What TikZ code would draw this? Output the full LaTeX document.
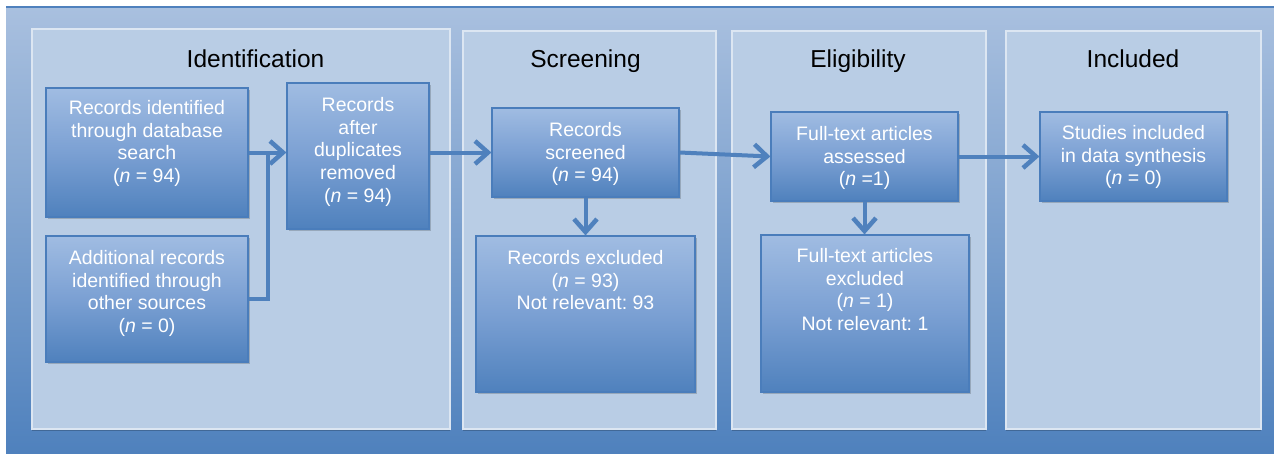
\documentclass[tikz,border=0pt]{standalone}
\usepackage{fontspec}
\setmainfont{Liberation Sans}
\usetikzlibrary{arrows.meta}
\frenchspacing

\definecolor{bgtop}{HTML}{A9C0DF}
\definecolor{bgbot}{HTML}{4F81BD}
\definecolor{panelfill}{HTML}{B9CDE5}
\definecolor{panelline}{HTML}{DCE6F2}
\definecolor{boxtop}{HTML}{A0BCE2}
\definecolor{boxmid}{HTML}{7BA0D3}
\definecolor{boxbot}{HTML}{4F81BD}
\definecolor{boxline}{HTML}{4A7DBB}
\definecolor{flow}{HTML}{4F81BD}

\tikzset{
  panel/.style={draw=panelline, fill=panelfill, line width=1.5pt, inner sep=0pt,
    preaction={fill=black!40!bgbot, opacity=0.5, transform canvas={yshift=-2pt}}},
  stage/.style={font=\fontsize{24.5}{28}\selectfont, text=black, anchor=base, inner sep=0pt},
  flowbox/.style={draw=boxline, line width=1.2pt, inner sep=0pt,
    top color=boxtop, bottom color=boxbot, middle color=boxmid,
    preaction={fill=black, opacity=0.18, transform canvas={xshift=1.5pt, yshift=-2pt}}},
  boxtext/.style={font=\fontsize{19.5}{22.6}\selectfont, text=white, align=center,
    anchor=north, inner sep=0pt},
  flowline/.style={draw=flow, line width=4pt},
  flowarrow/.style={flowline, -{Straight Barb[length=13pt, width=23pt, line width=4.5pt]}},
}

\begin{document}
\begin{tikzpicture}[x=1pt, y=-1pt]
\useasboundingbox (0,0) rectangle (1274,453);

% backdrop
\path[top color=bgtop, bottom color=bgbot] (6,7) rectangle (1274,453);
\draw[bgbot, line width=1.5pt] (6,7) -- (1274,7);

% stage panels
\node[panel, minimum width=418pt, minimum height=400pt] (pident) at (241,229) {};
\node[panel, minimum width=253pt, minimum height=398pt] (pscreen) at (589.5,230) {};
\node[panel, minimum width=254pt, minimum height=398pt] (pelig) at (859,230) {};
\node[panel, minimum width=255pt, minimum height=398pt] (pincl) at (1133.5,230) {};

% stage titles
\node[stage] (tident) at (255.5,67) {Identification};
\node[stage] (tscreen) at (585.5,67) {Screening};
\node[stage] (telig) at (858,67) {Eligibility};
\node[stage] (tincl) at (1133,67) {Included};

% boxes
\node[flowbox, minimum width=202pt, minimum height=129pt] (db) at (147,152.5) {};
\node[flowbox, minimum width=202pt, minimum height=126pt] (other) at (147,299) {};
\node[flowbox, minimum width=142pt, minimum height=146pt] (dup) at (358,156) {};
\node[flowbox, minimum width=187pt, minimum height=89pt] (screened) at (585.5,152.5) {};
\node[flowbox, minimum width=219pt, minimum height=156pt] (excluded) at (585.5,314) {};
\node[flowbox, minimum width=187pt, minimum height=89pt] (fulltext) at (864.5,156.5) {};
\node[flowbox, minimum width=208pt, minimum height=157pt] (ftexcl) at (865,313.5) {};
\node[flowbox, minimum width=187pt, minimum height=89pt] (studies) at (1133.5,156.5) {};

% box texts
\node[boxtext] (dbt) at ([yshift=-13pt]db.north)
  {Records identified\\through database\\search\\(\textit{n} = 94)};
\node[boxtext] (othert) at ([yshift=-15pt]other.north)
  {Additional records\\identified through\\other sources\\(\textit{n} = 0)};
\node[boxtext] (dupt) at ([yshift=-15pt]dup.north)
  {Records\\after\\duplicates\\removed\\(\textit{n} = 94)};
\node[boxtext] (screenedt) at ([yshift=-15pt]screened.north)
  {Records\\screened\\(\textit{n} = 94)};
\node[boxtext] (excludedt) at ([yshift=-15pt]excluded.north)
  {Records excluded\\(\textit{n} = 93)\\Not relevant: 93};
\node[boxtext] (fulltextt) at ([yshift=-15pt]fulltext.north)
  {Full-text articles\\assessed\\(\textit{n} =1)};
\node[boxtext] (ftexclt) at ([yshift=-14pt]ftexcl.north)
  {Full-text articles\\excluded\\(\textit{n} = 1)\\Not relevant: 1};
\node[boxtext] (studiest) at ([yshift=-14pt]studies.north)
  {Studies included\\in data synthesis\\(\textit{n} = 0)};

% connectors
\coordinate (merge) at (268,152.5);
\draw[flowarrow] (db.east) -- (db.east -| dup.west);
\draw[flowline, line join=miter] (other.east) -| (merge);
\draw[flowarrow] (screened.west -| dup.east) -- (screened.west);
\draw[flowarrow] (screened.east) -- (fulltext.west);
\draw[flowarrow] (fulltext.east) -- (studies.west);
\draw[flowarrow] (screened.south) -- (excluded.north -| screened.south);
\draw[flowarrow] (fulltext.south) -- (ftexcl.north -| fulltext.south);
\end{tikzpicture}
\end{document}
